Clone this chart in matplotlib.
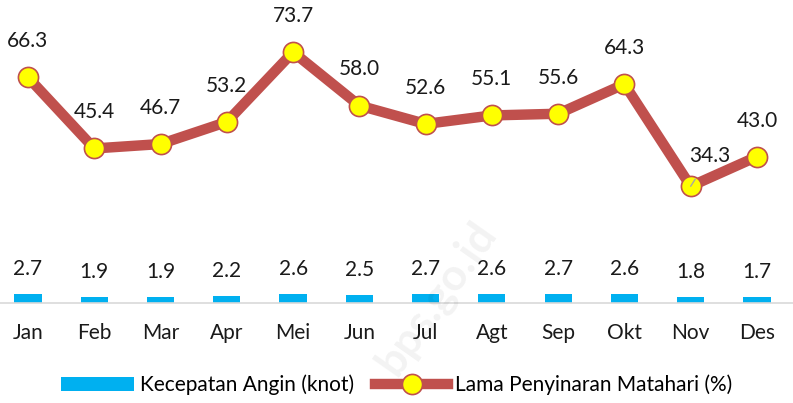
import matplotlib.pyplot as plt
import numpy as np

months = ['Jan', 'Feb', 'Mar', 'Apr', 'Mei', 'Jun', 'Jul', 'Agt', 'Sep', 'Okt', 'Nov', 'Des']
angin = [2.7, 1.9, 1.9, 2.2, 2.6, 2.5, 2.7, 2.6, 2.7, 2.6, 1.8, 1.7]
penyinaran = [66.3, 45.4, 46.7, 53.2, 73.7, 58.0, 52.6, 55.1, 55.6, 64.3, 34.3, 43.0]

plt.rcParams['font.family'] = ['Lato', 'DejaVu Sans']
FS = 15

fig = plt.figure(figsize=(7.93, 4.03), dpi=100)
ax = fig.add_axes([0, 0.248, 1, 0.752])
x = np.arange(len(months))

bars = ax.bar(x, angin, 0.41, color='#00B0F0', label='Kecepatan Angin (knot)', zorder=2)
line, = ax.plot(x, penyinaran, color='#C0504D', lw=7.5, marker='o', markersize=14.5,
                markerfacecolor='#FFFF00', markeredgecolor='#C0504D', markeredgewidth=1.2,
                solid_joinstyle='round', label='Lama Penyinaran Matahari (%)', zorder=3)

ax.set_xlim(-0.4225, 11.544)
ax.set_ylim(0, 89)

for xi, v in zip(x, angin):
    ax.annotate(f'{v:.1f}', (xi, v), xytext=(0, 18), textcoords='offset points',
                ha='center', va='center', fontsize=FS, color='#1a1a1a')

for xi, v in zip(x, penyinaran):
    if months[xi] == 'Nov':
        ax.annotate(f'{v:.1f}', (xi, v), xytext=(14, 22), textcoords='offset points',
                    ha='center', va='center', fontsize=FS, color='#1a1a1a', zorder=4,
                    arrowprops=dict(arrowstyle='-', color='#A6A6A6', lw=1,
                                    shrinkA=9, shrinkB=0))
    else:
        ax.annotate(f'{v:.1f}', (xi, v), xytext=(0, 26), textcoords='offset points',
                    ha='center', va='center', fontsize=FS, color='#1a1a1a')

ax.set_xticks(x)
ax.set_xticklabels(months, fontsize=FS, color='#1a1a1a')
ax.tick_params(axis='x', length=0, pad=14)
ax.set_yticks([])
for s in ['top', 'left', 'right']:
    ax.spines[s].set_visible(False)
ax.spines['bottom'].set_color('#D9D9D9')
ax.spines['bottom'].set_linewidth(1.2)

# faint watermark
fig.text(0.55, 0.26, 'bps.go.id', rotation=55, fontsize=32, color='#000000', alpha=0.05,
         ha='center', va='center', fontweight='bold')

fig.legend(handles=[bars, line], loc='center', bbox_to_anchor=(0.5, 0.045), ncol=2,
           frameon=False, fontsize=FS, handlelength=3.5, columnspacing=1.0,
           handletextpad=0.3)

fig.savefig('out.png', dpi=100)
